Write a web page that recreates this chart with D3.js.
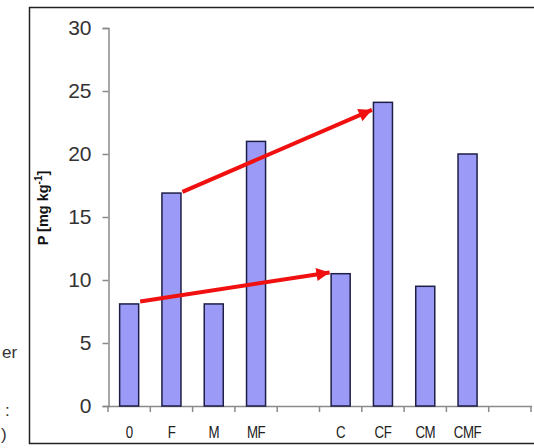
<!DOCTYPE html>
<html>
<head>
<meta charset="utf-8">
<script src="https://cdn.jsdelivr.net/npm/d3@7"></script>
<style>
  body { margin: 0; background: #fff; }
  svg { display: block; font-family: "Liberation Sans", Arial, sans-serif; }
</style>
</head>
<body>
<svg id="chart" width="534" height="448"></svg>
<script>
// ---- data ----
const slots = ["0", "F", "M", "MF", "gap1", "C", "CF", "CM", "CMF", "gap2"];
const categories = ["0", "F", "M", "MF", "C", "CF", "CM", "CMF"];
const values = [8.1, 16.9, 8.1, 21.0, 10.5, 24.1, 9.5, 20.0];
const yTicks = [0, 5, 10, 15, 20, 25, 30];
const yLabel = "P [mg kg";
// arrows: [from category, from value, to category, to value]
const arrowFrom = ["F", "0"];
const arrowFromVal = [17.0, 8.3];
const arrowTo = ["CF", "C"];
const arrowToVal = [23.5, 10.6];

const svg = d3.select("#chart");

// outer frame
svg.append("rect").attr("x", 29.5).attr("y", 7.5).attr("width", 540).attr("height", 436)
  .attr("fill", "none").attr("stroke", "#222").attr("stroke-width", 1.5);

// clipped text from neighbouring panel
const frag = svg.append("g").attr("fill", "#333").attr("font-size", 17);
frag.append("text").attr("x", 2).attr("y", 358).text("er");
frag.append("text").attr("x", 5).attr("y", 416).text(":");
frag.append("text").attr("x", 1).attr("y", 440).text(")");

const x = d3.scaleBand().domain(slots).range([108, 531]).padding(0);
const y = d3.scaleLinear().domain([0, 30]).range([406, 28]);
const bw = x.bandwidth() * 0.45;

// y axis
const yAxis = svg.append("g").attr("transform", "translate(108.5,0)")
  .call(d3.axisLeft(y).tickValues(yTicks).tickSize(6).tickPadding(11).tickFormat(d3.format("d")));
yAxis.select(".domain").attr("stroke", "#8a8a8a").attr("stroke-width", 1.5);
yAxis.selectAll(".tick line").attr("stroke", "#8a8a8a").attr("stroke-width", 1.5);
yAxis.selectAll(".tick text").attr("font-size", 21).attr("fill", "#333")
  .attr("font-family", "Liberation Sans, Arial, sans-serif");

// x axis line
svg.append("line").attr("x1", 108).attr("x2", 532).attr("y1", 406.5).attr("y2", 406.5)
  .attr("stroke", "#8a8a8a").attr("stroke-width", 1.5);
const tickPos = slots.map(s => x(s)).concat([x.range()[1]]);
svg.append("g").selectAll("line").data(tickPos).join("line")
  .attr("x1", d => d).attr("x2", d => d).attr("y1", 406).attr("y2", 412)
  .attr("stroke", "#8a8a8a").attr("stroke-width", 1.5);
svg.append("g").selectAll("text").data(categories).join("text")
  .attr("transform", d => `translate(${x(d) + x.bandwidth() / 2},438) scale(0.95,1.15)`)
  .attr("text-anchor", "middle").attr("font-size", 14).attr("fill", "#222")
  .attr("letter-spacing", -0.5).text(d => d);

// bars
svg.append("g").selectAll("rect").data(categories).join("rect")
  .attr("x", d => x(d) + (x.bandwidth() - bw) / 2)
  .attr("y", (d, i) => y(values[i]))
  .attr("width", bw)
  .attr("height", (d, i) => y(0) - y(values[i]))
  .attr("fill", "#9b9bf7").attr("stroke", "#1e1e46").attr("stroke-width", 1.5);

// y label
const yl = svg.append("text").attr("transform", "translate(48,208) rotate(-90)")
  .attr("text-anchor", "middle").attr("font-size", 14.5).attr("font-weight", "bold").attr("fill", "#111");
yl.append("tspan").text(yLabel);
yl.append("tspan").attr("font-size", 10).attr("dy", -6).text("-1");
yl.append("tspan").attr("dy", 6).text("]");

// arrows
svg.append("defs").append("marker").attr("id", "head")
  .attr("viewBox", "0 0 10 10").attr("refX", 10).attr("refY", 5)
  .attr("markerWidth", 3.5).attr("markerHeight", 3.3).attr("markerUnits", "strokeWidth")
  .attr("orient", "auto")
  .append("path").attr("d", "M0,0 L10,5 L0,10 Z").attr("fill", "#f01010");

const edge = (c, side) => x(c) + (x.bandwidth() - bw) / 2 + (side > 0 ? bw + 1.5 : -1.5);
svg.append("g").selectAll("line").data(arrowFrom).join("line")
  .attr("x1", (d, i) => edge(d, 1))
  .attr("y1", (d, i) => y(arrowFromVal[i]))
  .attr("x2", (d, i) => edge(arrowTo[i], -1))
  .attr("y2", (d, i) => y(arrowToVal[i]))
  .attr("stroke", "#f01010").attr("stroke-width", 4)
  .attr("marker-end", "url(#head)");
</script>
</body>
</html>
